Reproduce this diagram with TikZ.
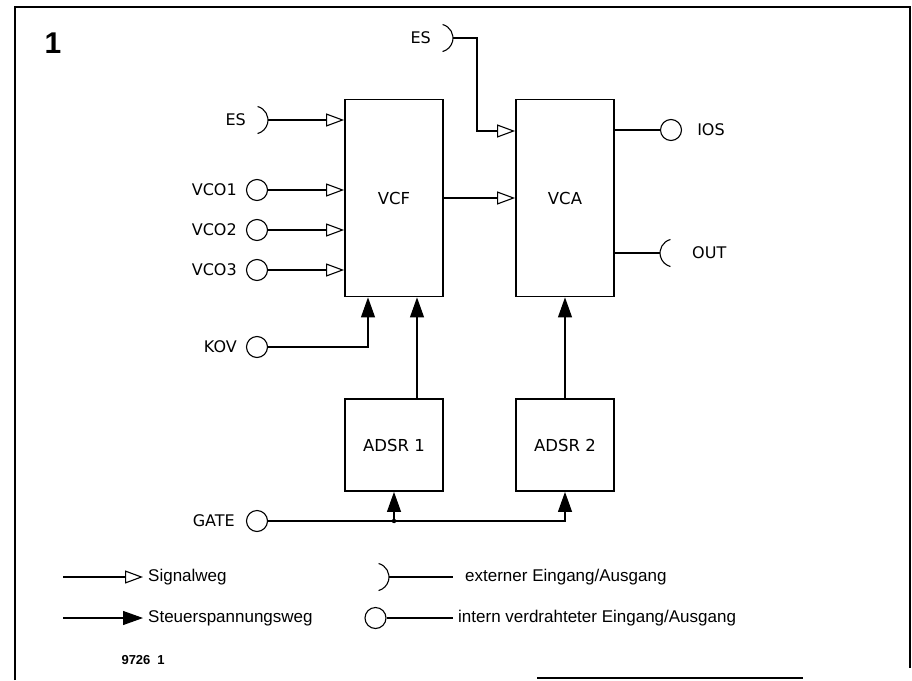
\documentclass[tikz,border=0pt]{standalone}
\usepackage{fontspec}
\setmainfont{DejaVu Sans}
\newfontfamily\legfont{Liberation Sans}
\usepackage{tikz}
\usetikzlibrary{arrows.meta, positioning}

\begin{document}
\begin{tikzpicture}[
      x=1pt, y=-1pt,
      node distance=8pt,
      blk/.style={rectangle, draw, line width=1.8pt, minimum width=98pt,
                  font=\fontsize{16.5}{19}\selectfont},
      filt/.style={blk, minimum height=197pt},
      env/.style={blk, minimum height=92pt},
      port/.style={circle, draw, line width=1.1pt, minimum size=21pt, inner sep=0pt},
      lbl/.style={font=\fontsize{16}{19}\selectfont, inner sep=2pt},
      leg/.style={font=\legfont\fontsize{17}{20}\selectfont, anchor=west, inner sep=5pt},
      wire/.style={line width=1.1pt},
      sig/.style={wire, -{Triangle[open, length=18pt, width=13pt]}},
      ctl/.style={wire, -{Triangle[length=20pt, width=14pt]}},
    ]
    \useasboundingbox (0,0) rectangle (912,680);

    % frame
    \draw[line width=1.4pt] (15,680) -- (15,7) -- (910,7) -- (910,668);
    \draw[line width=1.4pt] (537,678) -- (803,678);
    \node[font=\legfont\bfseries\fontsize{30}{30}\selectfont] (fig) at (53,43) {1};

    % blocks
    \node[filt] (vcf)   at (394,198) {VCF};
    \node[filt] (vca)   at (565,198) {VCA};
    \node[env]  (adsr1) at (394,445) {ADSR 1};
    \node[env]  (adsr2) at (565,445) {ADSR 2};

    % ports
    \coordinate (es1) at (453,38);
    \node[lbl, left=20pt of es1] (es1-l) {ES};
    \coordinate (es2) at (268,120);
    \node[lbl, left=20pt of es2] (es2-l) {ES};
    \node[port] (vco1) at (257,190) {};
    \node[lbl, left=7pt of vco1] (vco1-l) {VCO1};
    \node[port] (vco2) at (257,230) {};
    \node[lbl, left=7pt of vco2] (vco2-l) {VCO2};
    \node[port] (vco3) at (257,270) {};
    \node[lbl, left=7pt of vco3] (vco3-l) {VCO3};
    \node[port] (kov) at (257,347) {};
    \node[lbl, left=7pt of kov] (kov-l) {KOV};
    \node[port] (gate) at (257,521) {};
    \node[lbl, left=9pt of gate] (gate-l) {GATE};
    \node[port] (ios) at (671,130) {};
    \node[lbl, right=13pt of ios] (ios-l) {IOS};
    \coordinate (out) at (660,253);
    \node[lbl, right=30pt of out] (out-l) {OUT};

    \draw[wire] (es1) ++(-10.4,-13.5) arc[start angle=-75, end angle=75, radius=14];
    \draw[wire] (es2) ++(-10.4,-13.5) arc[start angle=-75, end angle=75, radius=14];
    \draw[wire] (out) ++(10.4,-13.5) arc[start angle=-105, end angle=-255, radius=14];

    % signal paths
    \draw[sig] (es1) -- ++(24,0) |- ([yshift=67pt]vca.west);
    \draw[sig] (es2) -- (es2 -| vcf.west);
    \draw[sig] (vco1) -- (vco1 -| vcf.west);
    \draw[sig] (vco2) -- (vco2 -| vcf.west);
    \draw[sig] (vco3) -- (vco3 -| vcf.west);
    \draw[sig] (vcf) -- (vca);
    \draw[wire] (vca.east |- ios) -- (ios);
    \draw[wire] (vca.east |- out) -- (out);

    % control paths
    \draw[ctl] (kov) -| ([xshift=-26pt]vcf.south);
    \draw[ctl] ([xshift=23pt]adsr1.north) -- ([xshift=23pt]vcf.south);
    \draw[ctl] (adsr2) -- (vca);
    \draw[ctl] (gate) -| (adsr2);
    \coordinate (tap) at (gate -| adsr1);
    \fill (tap) circle (2.2);
    \draw[ctl] (tap) -- (adsr1);

    % legend
    \coordinate (key-sig) at (63,577);
    \node[leg] (key-sig-l) at (143,577) {Signalweg};
    \draw[sig] (key-sig) -- (key-sig-l);
    \coordinate (key-ctl) at (63,618);
    \node[leg] (key-ctl-l) at (143,618) {Steuerspannungsweg};
    \draw[ctl] (key-ctl) -- (key-ctl-l);
    \coordinate (key-ext) at (389,577);
    \draw[wire] (key-ext) ++(-10.4,-13.5) arc[start angle=-75, end angle=75, radius=14];
    \node[leg] (key-ext-l) at (460,577) {externer Eingang/Ausgang};
    \draw[wire] (key-ext) -- ([xshift=-7pt]key-ext-l.west);
    \node[port] (key-int) at (375.5,618) {};
    \node[leg] (key-int-l) at (453,618) {intern verdrahteter Eingang/Ausgang};
    \draw[wire] (key-int) -- (key-int-l);

    \node[font=\legfont\bfseries\fontsize{13}{15}\selectfont, anchor=west] (code) at (118,660) {9726\hspace{7pt}1};
  \end{tikzpicture}
\end{document}
